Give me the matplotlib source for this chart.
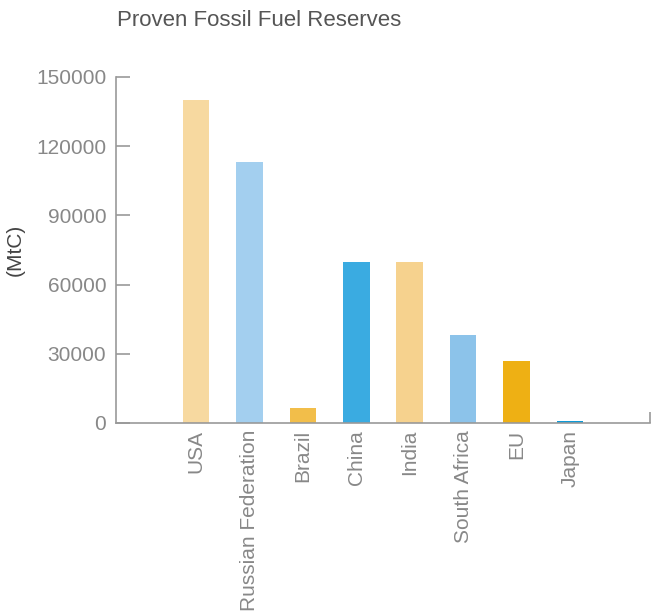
import matplotlib.pyplot as plt

plt.rcParams['font.family'] = ['Liberation Sans', 'DejaVu Sans']

# Proven reserves in MtC
countries = ['USA', 'Russian Federation', 'Brazil', 'China', 'India',
             'South Africa', 'EU', 'Japan']
reserves = [140000, 113000, 6500, 70000, 70000, 38000, 27000, 1000]
colors = ['#F7D9A0', '#A3CFEF', '#F2BE4A', '#3AABE1', '#F6D28E',
          '#8CC3EA', '#EEB014', '#0E9AD7']
yticks = [0, 30000, 60000, 90000, 120000, 150000]

fig = plt.figure(figsize=(6.58, 6.11), dpi=100)
ax = fig.add_axes([116 / 658, 1 - 423 / 611, (650 - 116) / 658, (423 - 77) / 611])

x = list(range(len(countries)))
ax.bar(x, reserves, width=0.5, color=colors)

ax.set_xlim(-1.5, 8.5)
ax.set_ylim(0, 150000)

axis_grey = '#999999'
text_grey = '#888888'

for side in ['top', 'right']:
    ax.spines[side].set_visible(False)
for side in ['left', 'bottom']:
    ax.spines[side].set_color(axis_grey)
    ax.spines[side].set_linewidth(1.2)

ax.set_yticks(yticks)
ax.set_yticklabels([str(v) for v in yticks])
ax.tick_params(axis='y', direction='in', length=10, width=1.2, color=axis_grey,
               labelcolor=text_grey, labelsize=15, pad=7)

ax.set_xticks(x)
ax.set_xticklabels(countries, rotation=90)
ax.tick_params(axis='x', length=0, labelcolor=text_grey, labelsize=15, pad=5)
ax.set_xticks([8.5], minor=True)
ax.tick_params(axis='x', which='minor', direction='in', length=8, width=1.2,
               color=axis_grey)

fig.text(117 / 658, 1 - 20 / 611, 'Proven Fossil Fuel Reserves', fontsize=16,
         color='#555555', ha='left', va='center')
fig.text(15 / 658, 1 - 250 / 611, '(MtC)', fontsize=15, color='#444444',
         rotation=90, ha='center', va='center')

fig.savefig('out.png', dpi=100)
